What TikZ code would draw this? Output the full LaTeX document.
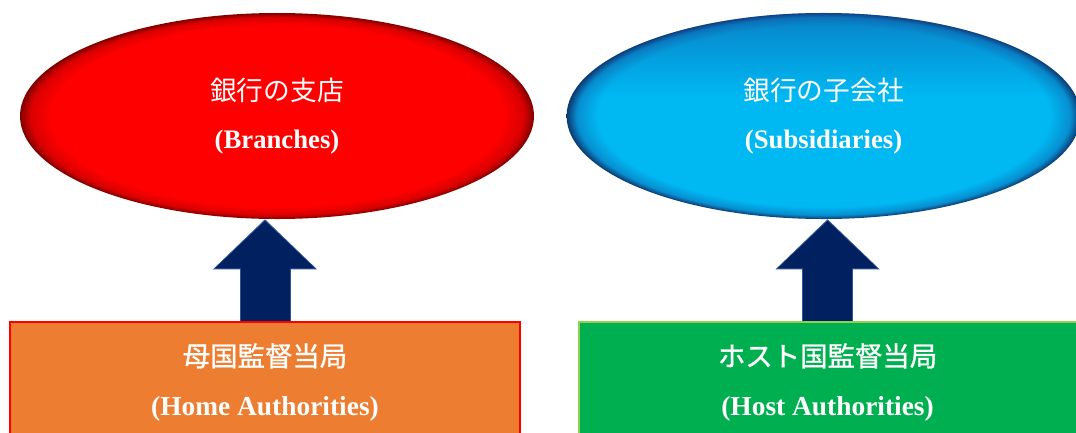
\documentclass[tikz,border=0pt]{standalone}
\usepackage{fontspec}
\setmainfont{Liberation Serif}
\newfontfamily\jpfont{Noto Sans CJK JP}
\newfontfamily\jpheavy{Noto Sans CJK JP}[FakeBold=1.2]
\usepackage{xcolor}
\usetikzlibrary{
    positioning,      % For placing nodes relative to each other (e.g., below=of)
    shapes.geometric, % For the 'ellipse' shape
    arrows.meta,      % For the Triangle tip of the block arrows
    shadings,         % For the rim of the ellipses
    fadings           % For the darker top of the blue ellipse
}
\definecolor{RedFill}{HTML}{FF0000}
\definecolor{BlueFill}{HTML}{00B8F2}
\definecolor{BlueDeep}{HTML}{12509F}
\definecolor{HomeFill}{HTML}{ED7D31}
\definecolor{HomeBorder}{HTML}{FF0000}
\definecolor{HostFill}{HTML}{00B050}
\definecolor{HostBorder}{HTML}{92D050}
\definecolor{ArrowFill}{HTML}{002060}
\definecolor{ArrowEdge}{HTML}{2F5597}

% Radial shadings: flat inside, dark rim at the border (25bp)
\pgfdeclareradialshading{redrim}{\pgfpoint{0bp}{0bp}}{%
    color(0bp)=(RedFill); color(22bp)=(RedFill); color(24bp)=(RedFill!85!black);
    color(25bp)=(RedFill!50!black); color(50bp)=(RedFill!50!black)}
\pgfdeclareradialshading{bluerim}{\pgfpoint{0bp}{0bp}}{%
    color(0bp)=(BlueFill); color(22bp)=(BlueFill); color(24bp)=(BlueFill!60!BlueDeep);
    color(25bp)=(BlueDeep!70!black); color(50bp)=(BlueDeep!70!black)}
% Darker band along the top of the blue ellipse
\pgfdeclareverticalshading{topband}{100bp}{%
    color(0bp)=(transparent!100); color(55bp)=(transparent!100);
    color(80bp)=(transparent!35); color(100bp)=(transparent!5)}
\pgfdeclarefading{topshade}{\pgfuseshading{topband}}

\begin{document}
\begin{tikzpicture}[
    % One unit is one pixel of the reference
    x=0.25mm, y=0.25mm,
]
    % --- Define TikZ styles for diagram elements ---
    \tikzset{
        % Style for the two ellipses on top
        oval/.style={
            shape=ellipse,                   % Elliptic node
            shade,                           % Filled with a shading
            inner sep=0pt,
            minimum width=128.5mm,
            minimum height=51.5mm,
            text=white,
            align=center,
            font=\fontsize{19}{34.5}\selectfont,
        },
        % Style for the two supervisor boxes at the bottom
        authority/.style={
            shape=rectangle,
            line width=0.5mm,                % Thin coloured border
            minimum height=30mm,
            text=white,
            align=center,
            font=\fontsize{19.5}{35}\selectfont,
        },
        % Outline pass of the block arrows
        bigarrowedge/.style={
            draw=ArrowEdge,
            line width=12.75mm,
            -{Triangle[length=12.5mm, width=26mm, line width=0pt]}
        },
        % Fill pass of the block arrows
        bigarrow/.style={
            draw=ArrowFill,
            line width=12.25mm,
            shorten >=0.4mm,
            -{Triangle[length=11.9mm, width=25mm, line width=0pt]}
        }
    }

    % Fix the margins of the picture
    \useasboundingbox (0,0) rectangle (1076,432);

    % 1. Place the two ellipses
    \node[oval, shading=redrim] (branch) at (277,316)
        {{\jpfont 銀行の支店}\\\textbf{(Branches)}};
    \node[oval, shading=bluerim, right=8mm of branch,
          postaction={fill=BlueDeep, path fading=topshade}] (subsid)
        {{\jpfont 銀行の子会社}\\\textbf{(Subsidiaries)}};

    % 2. Place the two boxes below the ellipses
    \node[authority, draw=HomeBorder, fill=HomeFill, minimum width=127.5mm,
          below=25.5mm of branch, xshift=-3mm] (home)
        {{\jpheavy 母国監督当局}\\\textbf{(Home Authorities)}};
    \node[authority, draw=HostBorder, fill=HostFill, minimum width=124.5mm,
          below=25.5mm of subsid, xshift=1mm] (host)
        {{\jpheavy ホスト国監督当局}\\\textbf{(Host Authorities)}};

    % 3. Draw the block arrows
    \draw[bigarrowedge] (home.north) -- (home.north |- branch.south);
    \draw[bigarrow] (home.north) -- (home.north |- branch.south);
    \draw[bigarrowedge] (host.north) -- (host.north |- subsid.south);
    \draw[bigarrow] (host.north) -- (host.north |- subsid.south);

\end{tikzpicture}
\end{document}
